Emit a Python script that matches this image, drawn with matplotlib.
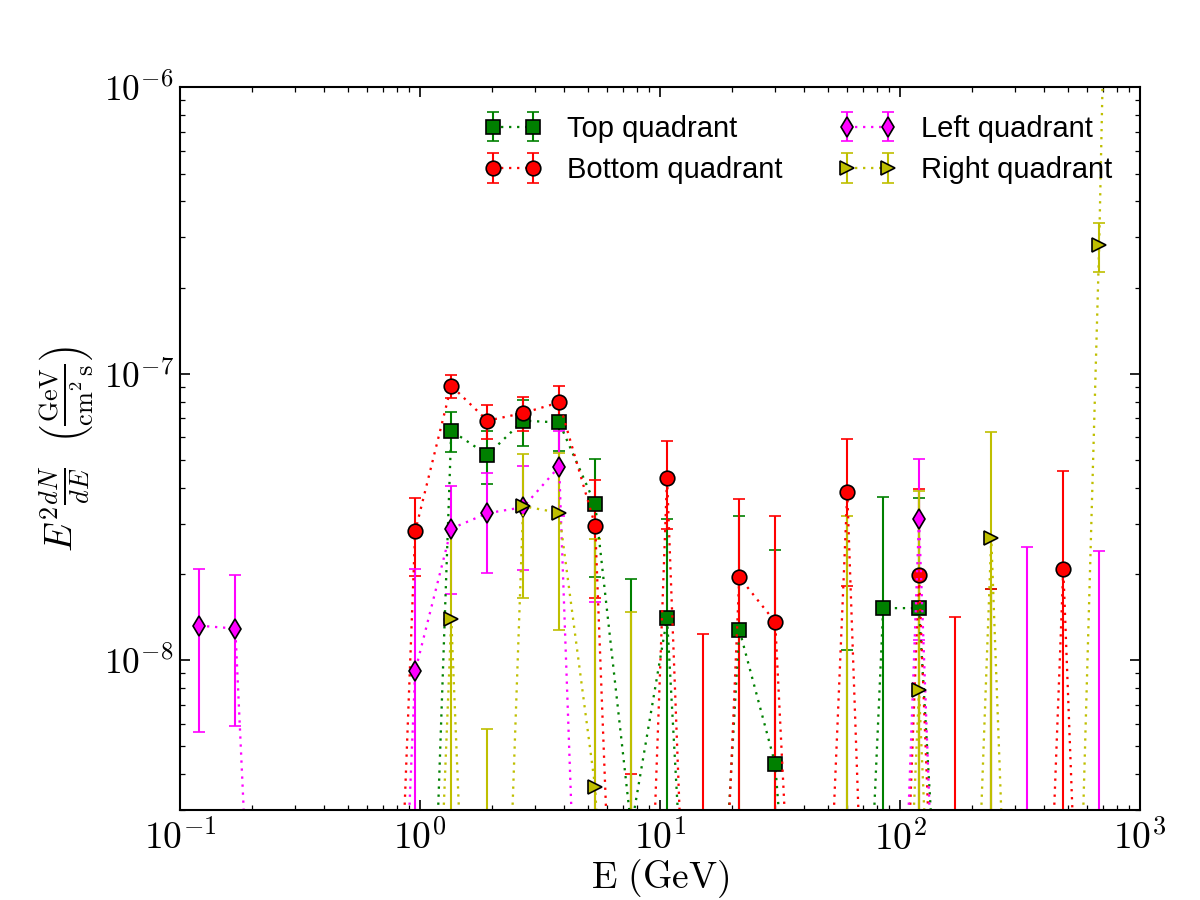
import numpy as np
import matplotlib
matplotlib.use('Agg')
import matplotlib.pyplot as plt
from matplotlib.ticker import FuncFormatter, NullFormatter

plt.rcParams['mathtext.fontset'] = 'cm'
plt.rcParams['xtick.direction'] = 'in'
plt.rcParams['ytick.direction'] = 'in'
plt.rcParams['xtick.top'] = True
plt.rcParams['ytick.right'] = True

# energy bins (GeV)
energy = [0.120, 0.170, 0.240, 0.339, 0.479, 0.676, 0.955, 1.35, 1.91, 2.69,
          3.80, 5.37, 7.59, 10.7, 15.1, 21.4, 30.2, 42.7, 60.3, 85.1,
          120.0, 170.0, 240.0, 339.0, 479.0, 676.0, 955.0]

# E^2 dN/dE for each quadrant, with errors (GeV cm^-2 s^-1)
top_flux = [1e-11, 1e-11, 1e-11, 1e-11, 1e-11, 1e-11, 1.5e-11, 6.33e-8, 5.21e-8, 6.86e-8,
            6.76e-8, 3.50e-8, 2.6e-9, 1.40e-8, 8e-11, 1.28e-8, 4.34e-9, 1e-10, 2.3e-11, 1.52e-8,
            1.52e-8, 1e-10, 1e-11, 1e-11, 1e-11, 1e-11, 1e-11]
top_err = [0, 0, 0, 0, 0, 0, 0, 1.0e-8, 1.1e-8, 1.25e-8,
           1.4e-8, 1.55e-8, 1.66e-8, 1.7e-8, 0, 1.92e-8, 2.0e-8, 0, 1.08e-8, 2.2e-8,
           2.17e-8, 0, 1.77e-8, 0, 0, 0, 0]

bottom_flux = [1e-11, 1e-11, 1e-11, 1e-11, 1e-11, 1.5e-11, 2.82e-8, 9.08e-8, 6.86e-8, 7.29e-8,
               7.94e-8, 2.95e-8, 1.5e-11, 4.34e-8, 2e-11, 1.95e-8, 1.36e-8, 4e-11, 3.86e-8, 1e-11,
               1.99e-8, 1e-11, 1e-11, 1e-11, 2.09e-8, 1e-11, 1e-11]
bottom_err = [0, 0, 0, 0, 0, 0, 8.5e-9, 8.5e-9, 9.5e-9, 1.0e-8,
              1.15e-8, 1.3e-8, 4e-9, 1.47e-8, 1.23e-8, 1.71e-8, 1.82e-8, 0, 2.05e-8, 0,
              1.98e-8, 1.41e-8, 1.77e-8, 0, 2.5e-8, 0, 0]

left_flux = [1.32e-8, 1.29e-8, 2.5e-11, 1e-11, 1e-11, 1e-11, 9.16e-9, 2.88e-8, 3.26e-8, 3.42e-8,
             4.74e-8, 1.4e-11, 1e-11, 1e-11, 1e-11, 1e-11, 1e-11, 1e-11, 1e-11, 1e-11,
             3.11e-8, 1e-11, 1e-11, 1e-11, 1e-11, 1e-11, 1e-11]
left_err = [7.6e-9, 7.0e-9, 0, 0, 0, 0, 1.16e-8, 1.18e-8, 1.24e-8, 1.35e-8,
            1.55e-8, 1.6e-8, 0, 0, 0, 0, 0, 0, 0, 0,
            1.93e-8, 0, 0, 2.48e-8, 0, 2.41e-8, 0]

right_flux = [1e-11, 1e-11, 1e-11, 1e-11, 1e-11, 1e-11, 1e-11, 1.39e-8, 1e-11, 3.45e-8,
              3.27e-8, 3.6e-9, 1e-11, 1e-11, 1e-11, 1e-11, 1e-11, 1e-11, 1e-11, 1e-11,
              7.85e-9, 1e-11, 2.67e-8, 1e-11, 1e-11, 2.82e-7, 0.3]
right_err = [0, 0, 0, 0, 0, 0, 0, 1.5e-8, 5.75e-9, 1.8e-8,
             2.0e-8, 2.3e-8, 1.47e-8, 0, 0, 0, 0, 0, 3.18e-8, 0,
             3.1e-8, 0, 3.6e-8, 0, 0, 5.5e-8, 0]

series = [
    ('Top quadrant', top_flux, top_err, 's', 'g'),
    ('Bottom quadrant', bottom_flux, bottom_err, 'o', 'r'),
    ('Left quadrant', left_flux, left_err, 'd', '#ff00ff'),
    ('Right quadrant', right_flux, right_err, '>', '#bfbf00'),
]

fig = plt.figure(figsize=(8, 6), dpi=150)
ax = fig.add_axes([0.15, 0.1, 0.8, 0.803])
ax.set_xscale('log')
ax.set_yscale('log')

for name, flux, err, mk, col in series:
    ax.errorbar(energy, flux, yerr=err, fmt=mk, color=col, ecolor=col,
                ls=(0, (1, 2.5)), lw=1.1, mec='k', mew=0.8, ms=7,
                elinewidth=1.0, capsize=3, capthick=0.8, label=name)

ax.set_xlim(0.1, 1000)
ax.set_ylim(3e-9, 1e-6)

fmt = FuncFormatter(lambda v, p: r'$10^{%d}$' % int(round(np.log10(v))))
ax.xaxis.set_major_formatter(fmt)
ax.yaxis.set_major_formatter(fmt)
ax.xaxis.set_minor_formatter(NullFormatter())
ax.yaxis.set_minor_formatter(NullFormatter())
ax.tick_params(which='major', length=5, width=0.8, labelsize=18, pad=5)
ax.tick_params(axis='y', which='major', labelsize=17, pad=3)
ax.tick_params(which='minor', length=2.5, width=0.6)
for s in ax.spines.values():
    s.set_linewidth(1.0)

ax.set_xlabel(r'$\mathrm{E\ (GeV)}$', fontsize=18, labelpad=0)
ax.set_ylabel(r'$E^2\frac{dN}{dE}\ \ \left(\frac{\mathrm{GeV}}{\mathrm{cm^2\,s}}\right)$',
              fontsize=18, labelpad=4)

leg = ax.legend(loc='upper right', ncol=2, numpoints=2, frameon=False,
                prop={'family': 'Liberation Sans', 'size': 14},
                handlelength=2.0, handletextpad=0.85, columnspacing=1.9,
                labelspacing=0.45, borderaxespad=0.55)

fig.savefig('out.png', dpi=150)
